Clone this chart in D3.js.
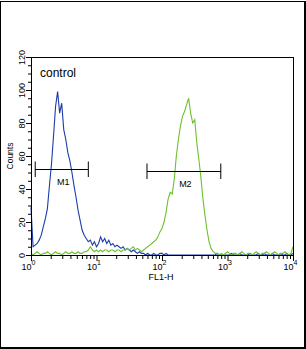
<!DOCTYPE html>
<html>
<head>
<meta charset="utf-8">
<script src="https://cdn.jsdelivr.net/npm/d3@7"></script>
<style>
	body { margin: 0; background: #fff; }
	svg { display: block; font-family: "Liberation Sans", Arial, sans-serif; }
</style>
</head>
<body>
<div id="chart"></div>
<script>
// Histogram counts per log channel (32 channels per decade, channel i -> 10^(i/32))
const channelsPerDecade = 32

const blueCounts = [
	29, 5, 6, 7, 9, 12, 17, 22, 28, 42,
	55, 72, 90, 99, 86, 92, 76, 70, 62, 57,
	50, 42, 35, 27, 21, 15, 12, 10, 8, 9,
	6, 8, 5, 7, 11, 8, 10, 7, 9, 6,
	7, 5, 6, 5, 4, 5, 3, 4, 3, 2,
	3, 2, 1, 2, 1, 1, 0, 1, 0, 0,
	1, 0, 0, 1, 1, 0, 1, 0, 0, 0,
	0, 0, 0, 0, 0, 0, 0, 0, 0, 0,
	0, 0, 0, 0, 0, 0, 0, 0, 0, 0,
	0, 1, 0, 0, 0, 0, 0, 0, 1, 0,
	0, 0, 1, 0, 0, 0, 0, 1, 0, 0,
	0, 1, 0, 0, 1, 0, 0, 0, 1, 0,
	0, 0, 1, 0, 0, 1, 0, 0, 1,
]

const greenCounts = [
	1, 0, 1, 2, 1, 0, 1, 1, 2, 1,
	0, 1, 2, 1, 1, 0, 1, 2, 1, 1,
	2, 1, 1, 2, 1, 1, 2, 2, 3, 5,
	3, 2, 3, 2, 3, 2, 3, 3, 2, 3,
	3, 2, 3, 3, 2, 3, 3, 4, 3, 4,
	5, 3, 4, 3, 2, 3, 4, 5, 6, 7,
	8, 9, 11, 14, 16, 20, 26, 34, 38, 37,
	46, 60, 70, 78, 84, 87, 91, 95, 86, 80,
	82, 68, 58, 47, 34, 24, 15, 8, 4, 2,
	1, 1, 0, 1, 0, 1, 2, 1, 0, 1,
	1, 0, 1, 2, 1, 0, 1, 1, 0, 1,
	2, 1, 0, 1, 1, 2, 1, 0, 1, 2,
	1, 0, 1, 1, 2, 1, 0, 1, 5,
]

const xMajorTicks = [1, 10, 100, 1000, 10000]
const xTickExponents = ["0", "1", "2", "3", "4"]
const yMajorTicks = [0, 20, 40, 60, 80, 100, 120]

// Marker gates: name, low, high, level (counts)
const markerNames = ["M1", "M2"]
const markerLow = [1.16, 59]
const markerHigh = [7.5, 790]
const markerLevel = [52, 51]

const sampleLabel = "control"
const xLabel = "FL1-H"
const yLabel = "Counts"

const width = 306
const height = 349

const svg = d3.select("#chart")
	.append("svg")
	.attr("width", width)
	.attr("height", height)

// Outer border (thin top/left, heavier bottom/right)
svg.append("rect").attr("x", 0).attr("y", 1).attr("width", 1).attr("height", 347).attr("fill", "#000")
svg.append("rect").attr("x", 0).attr("y", 1).attr("width", 305).attr("height", 1).attr("fill", "#000")
svg.append("rect").attr("x", 304).attr("y", 1).attr("width", 2).attr("height", 348).attr("fill", "#000")
svg.append("rect").attr("x", 0).attr("y", 347).attr("width", 306).attr("height", 2).attr("fill", "#000")

// Scales
const xScale = d3.scaleLog().domain([1, 10000]).range([31, 293])
const yScale = d3.scaleLinear().domain([0, 120]).range([255, 57])

const xMinorTicks = []
xMajorTicks.slice(0, -1).forEach((d) => {
	for (let k = 2; k <= 9; k++) xMinorTicks.push(d * k)
})
const yMinorTicks = d3.range(0, 121, 5).filter((d) => d % 20 !== 0)

// Axes (tick marks only, labels drawn below)
const xAxisMajor = svg.append("g")
	.attr("transform", "translate(0,256)")
	.call(d3.axisBottom(xScale).tickValues(xMajorTicks).tickSize(5).tickSizeOuter(0).tickFormat(""))
const xAxisMinor = svg.append("g")
	.attr("transform", "translate(0,256)")
	.call(d3.axisBottom(xScale).tickValues(xMinorTicks).tickSize(3).tickSizeOuter(0).tickFormat(""))
const yAxisMajor = svg.append("g")
	.attr("transform", "translate(31,0)")
	.call(d3.axisLeft(yScale).tickValues(yMajorTicks).tickSize(5).tickSizeOuter(0).tickFormat(""))
const yAxisMinor = svg.append("g")
	.attr("transform", "translate(31,0)")
	.call(d3.axisLeft(yScale).tickValues(yMinorTicks).tickSize(3).tickSizeOuter(0).tickFormat(""))

;[xAxisMajor, xAxisMinor, yAxisMajor, yAxisMinor].forEach((g) => {
	g.select(".domain").remove()
	g.selectAll(".tick line").attr("stroke", "#000")
})

// X tick labels with superscript exponents
xMajorTicks.forEach((d, i) => {
	const t = svg.append("text")
		.attr("x", xScale(d) - 2.5)
		.attr("y", 270)
		.attr("text-anchor", "middle")
		.style("font-size", "9px")
		.attr("fill", "#000")
	t.append("tspan").text("10")
	t.append("tspan")
		.attr("dy", -5)
		.style("font-size", "7px")
		.text(xTickExponents[i])
})

// Y tick labels (rotated)
yMajorTicks.forEach((d) => {
	svg.append("text")
		.attr("transform", `translate(25,${yScale(d) + 0.5}) rotate(-90)`)
		.attr("text-anchor", "middle")
		.style("font-size", "9px")
		.attr("fill", "#000")
		.text(d)
})

// Axis titles
svg.append("text")
	.attr("x", 161)
	.attr("y", 279.5)
	.attr("text-anchor", "middle")
	.style("font-size", "9px")
	.text(xLabel)

svg.append("text")
	.attr("transform", "translate(13,156) rotate(-90)")
	.attr("text-anchor", "middle")
	.style("font-size", "8.5px")
	.text(yLabel)

// Histogram lines
const line = d3.line()
	.x((d, i) => xScale(Math.pow(10, i / channelsPerDecade)))
	.y((d) => yScale(d))

svg.append("path")
	.datum(blueCounts)
	.attr("fill", "none")
	.attr("stroke", "#1c3ca8")
	.attr("stroke-width", 1.1)
	.attr("d", line)

svg.append("path")
	.datum(greenCounts)
	.attr("fill", "none")
	.attr("stroke", "#6cc22e")
	.attr("stroke-width", 1.1)
	.attr("d", line)

// Plot frame
svg.append("rect")
	.attr("x", 31.5)
	.attr("y", 57.5)
	.attr("width", 262)
	.attr("height", 198)
	.attr("fill", "none")
	.attr("stroke", "#000")
	.attr("stroke-width", 1)

// Marker gates
markerNames.forEach((name, i) => {
	const x1 = xScale(markerLow[i])
	const x2 = xScale(markerHigh[i])
	const yy = Math.round(yScale(markerLevel[i])) + 0.5
	const g = svg.append("g").attr("stroke", "#000").attr("stroke-width", 1)
	g.append("line").attr("x1", x1).attr("x2", x2).attr("y1", yy).attr("y2", yy)
	g.append("line").attr("x1", x1).attr("x2", x1).attr("y1", yy - 8).attr("y2", yy + 7.5)
	g.append("line").attr("x1", x2).attr("x2", x2).attr("y1", yy - 8).attr("y2", yy + 7.5)
	svg.append("text")
		.attr("x", (x1 + x2) / 2 + 1.5)
		.attr("y", yy + 15.5)
		.attr("text-anchor", "middle")
		.style("font-size", "9px")
		.text(name)
})

// Sample label
svg.append("text")
	.attr("x", 40)
	.attr("y", 77)
	.style("font-size", "12px")
	.text(sampleLabel)
</script>
</body>
</html>
